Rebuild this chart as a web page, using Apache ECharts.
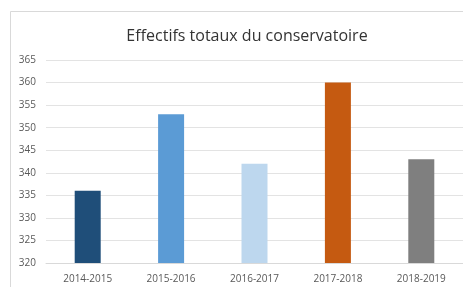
<!DOCTYPE html>
<html><head><meta charset="utf-8">
<script src="https://cdn.jsdelivr.net/npm/echarts@6/dist/echarts.min.js"></script>
<style>html,body{margin:0;padding:0;background:#fff;}#c{width:463px;height:287px;}</style>
</head><body><div id="c"></div>
<script>
const categories = ['2014-2015','2015-2016','2016-2017','2017-2018','2018-2019'];
const values = [336, 353, 342, 360, 343];
const barColors = ['#1f4e79','#5b9bd5','#bdd7ee','#c55a11','#7f7f7f'];
const yTicks = [320,325,330,335,340,345,350,355,360,365];

const chart = echarts.init(document.getElementById('c'));
chart.setOption({
  animation: false,
  backgroundColor: '#fff',
  title: {
    text: 'Effectifs totaux du conservatoire',
    left: 242, top: 23, textAlign: 'center',
    textStyle: {fontFamily: 'Open Sans', fontSize: 16, fontWeight: 'normal', color: '#333333'}
  },
  graphic: [
    {type: 'line', shape: {x1: 10.5, y1: 11.5, x2: 10.5, y2: 287}, style: {stroke: '#d9d9d9', lineWidth: 1}},
    {type: 'line', shape: {x1: 10.5, y1: 11.5, x2: 463, y2: 11.5}, style: {stroke: '#d9d9d9', lineWidth: 1}}
  ],
  grid: {left: 46, top: 60, width: 419, height: 203, containLabel: false},
  xAxis: {
    type: 'category', data: categories,
    axisTick: {show: false},
    axisLine: {lineStyle: {color: '#d9d9d9'}},
    axisLabel: {color: '#595959', fontFamily: 'Open Sans', fontSize: 10, margin: 11}
  },
  yAxis: {
    type: 'value', min: yTicks[0], max: yTicks[yTicks.length-1], interval: 5,
    axisLine: {show: false}, axisTick: {show: false},
    splitLine: {lineStyle: {color: '#e3e3e3'}},
    axisLabel: {color: '#595959', fontFamily: 'Open Sans', fontSize: 10, margin: 10, align: 'right'}
  },
  series: [{
    type: 'bar', barWidth: 26,
    data: values.map((v, i) => ({value: v, itemStyle: {color: barColors[i]}}))
  }]
});
</script></body></html>
